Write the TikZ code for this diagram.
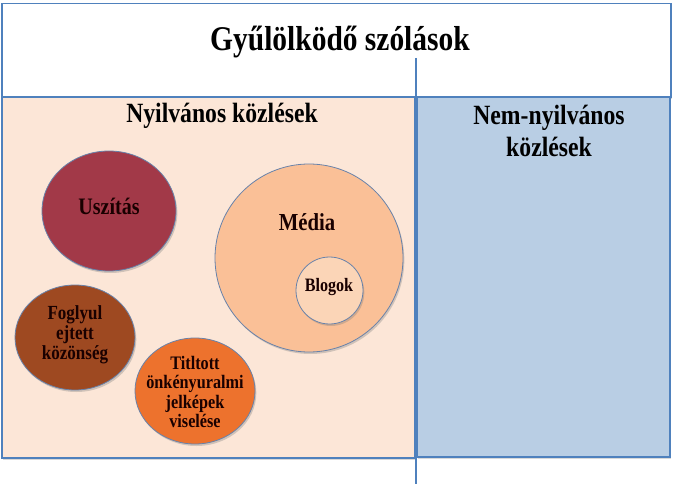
\documentclass[tikz,border=0pt]{standalone}
\usepackage{fontspec}
\setmainfont{Liberation Serif}[BoldFont={Liberation Serif Bold}, FakeStretch=0.85]
\usetikzlibrary{shapes.geometric,shadows}

\tikzset{every picture/.style={line width=0.75pt}}
\definecolor{frameblue}{RGB}{79,129,189}
\definecolor{bubbleline}{RGB}{104,130,170}
\definecolor{peachfill}{RGB}{252,230,215}
\definecolor{bluefill}{RGB}{185,206,228}
\definecolor{uszitasfill}{RGB}{162,57,72}
\definecolor{foglyulfill}{RGB}{158,73,33}
\definecolor{titltottfill}{RGB}{237,114,45}
\definecolor{mediafill}{RGB}{250,192,151}
\definecolor{blogokfill}{RGB}{251,213,183}

\tikzset{
  panel/.style={draw=frameblue, line width=1pt, drop shadow={opacity=0.3, shadow xshift=0.8pt, shadow yshift=-1.2pt}},
  bubble/.style={ellipse, draw=bubbleline, line width=0.6pt, inner sep=0pt,
    drop shadow={opacity=0.35, shadow xshift=1pt, shadow yshift=-1.5pt}},
  bubbletext/.style={align=center, inner sep=0pt, text=black!90!red},
  heading/.style={align=center, font=\fontsize{20.9}{23.5}\selectfont\bfseries}
}

\begin{document}
\begin{tikzpicture}[x=0.75pt,y=0.75pt,yscale=-1,xscale=1]
	\useasboundingbox (0,0) rectangle (673,484);

	%Shape: Rectangle [id:title box] 
	\draw [panel, fill=white] (2,3.5) rectangle (671,97) ;
	%Shape: Rectangle [id:public panel] 
	\draw [panel, fill=peachfill] (2,97) rectangle (415,458) ;
	%Shape: Rectangle [id:private panel] 
	\draw [panel, fill=bluefill] (417,97) rectangle (670,457) ;
	%Straight Lines [id:divider] 
	\coordinate (divtop) at (416,58) ;
	\coordinate (divbot) at (416,484) ;
	\draw [draw=frameblue, line width=1.6pt] (divtop) -- (divbot) ;

	% Text Node
	\node (title) at (340,42) {\fontsize{26}{30}\selectfont\bfseries Gyűlölködő szólások};
	% Text Node
	\node [heading] (nyilv) at (222,116) {Nyilvános közlések};
	% Text Node
	\node [heading] (nemnyilv) at (549,131) {Nem-nyilvános\\közlések};

	% Ellipse Node
	\node [bubble, fill=uszitasfill, minimum width=100.5pt, minimum height=90pt] (uszitas) at (109,211) {};
	\node [bubbletext, font=\fontsize{17.7}{20}\selectfont\bfseries] (uszitaslabel) at (109,206) {Uszítás};
	% Ellipse Node
	\node [bubble, fill=foglyulfill, minimum width=90pt, minimum height=78.75pt] (foglyul) at (75,337.5) {};
	\node [bubbletext, font=\fontsize{15}{15.2}\selectfont\bfseries] (foglyullabel) at (75,335) {Foglyul\\ejtett\\közönség};
	% Ellipse Node
	\node [bubble, fill=titltottfill, minimum width=90pt, minimum height=79.5pt] (titltott) at (195,391) {};
	\node [bubbletext, font=\fontsize{14.3}{14.4}\selectfont\bfseries] (titltottlabel) at (195,392) {Titltott\\önkényuralmi\\jelképek\\viselése};
	% Circle Node
	\node [bubble, fill=mediafill, minimum width=141pt, minimum height=141pt] (media) at (309,258) {};
	\node [bubbletext, font=\fontsize{18.3}{20}\selectfont\bfseries] (medialabel) at (307,222) {Média};
	% Circle Node
	\node [bubble, fill=blogokfill, minimum width=50.25pt, minimum height=50.25pt] (blogok) at (329.5,290.5) {};
	\node [bubbletext, font=\fontsize{14.2}{16}\selectfont\bfseries] (blogoklabel) at (329,287) {Blogok};

\end{tikzpicture}
\end{document}
